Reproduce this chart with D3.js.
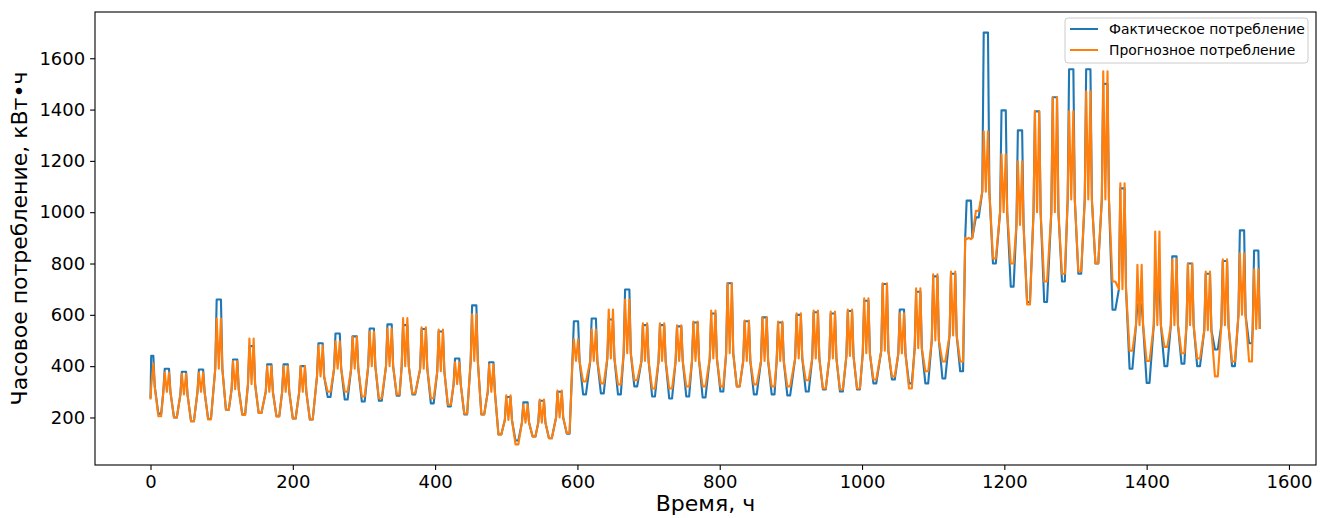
<!DOCTYPE html>
<html>
<head>
<meta charset="utf-8">
<script src="https://cdn.jsdelivr.net/npm/d3@7"></script>
<style>
  body { margin: 0; background: #fff; }
  svg text { font-family: "DejaVu Sans", sans-serif; fill: #000; }
</style>
</head>
<body>
<div id="container"></div>
<script>
// hour of each daily peak
const dayPeakHour = [1, 23, 47, 71, 96, 119, 142, 167, 190, 214, 239, 263, 287, 311, 336, 358, 384, 408, 431, 455,
  479, 503, 527, 550, 575, 598, 623, 647, 670, 695, 719, 743, 766, 791, 814, 838, 863, 885, 911, 935,
  959, 983, 1006, 1032, 1056, 1079, 1103, 1128, 1150, 1174, 1199, 1222, 1246, 1271, 1294, 1318, 1342, 1366, 1390, 1415,
  1439, 1461, 1486, 1510, 1534, 1554]

const actualPeak = [440, 390, 378, 387, 660, 426, 478, 407, 407, 400, 489, 527, 516, 547, 563, 560, 545, 535, 430, 637,
  415, 280, 259, 265, 300, 575, 586, 582, 699, 560, 560, 555, 570, 605, 723, 575, 590, 570, 600, 610,
  605, 615, 655, 720, 621, 690, 750, 760, 1045, 1700, 1397, 1319, 1393, 1448, 1557, 1557, 1500, 1093, 640, 720,
  828, 800, 760, 810, 929, 851]

const forecastPeak = [410, 375, 370, 375, 586, 420, 508, 400, 400, 400, 480, 497, 515, 535, 547, 587, 551, 543, 415, 602,
  407, 286, 250, 270, 305, 505, 543, 621, 660, 567, 567, 559, 574, 617, 723, 578, 590, 574, 606, 617,
  613, 621, 664, 723, 606, 703, 758, 769, 895, 1315, 1226, 1198, 1393, 1448, 1393, 1471, 1549, 1113, 795, 925,
  816, 800, 769, 816, 840, 777]

// level held just before and after each peak
const dayShoulder = [320, 300, 290, 300, 390, 310, 330, 300, 300, 300, 360, 390, 390, 400, 400, 400, 390, 380, 330, 420,
  300, 190, 180, 180, 200, 420, 420, 430, 450, 420, 420, 420, 420, 430, 450, 420, 420, 420, 430, 430,
  430, 440, 450, 460, 450, 470, 500, 520, 900, 1080, 1000, 950, 1000, 1000, 1050, 1050, 1050, 700, 560, 560,
  560, 560, 540, 560, 600, 545]

const actualTrough = [215, 200, 185, 195, 230, 212, 218, 205, 196, 192, 280, 270, 262, 265, 285, 290, 255, 243, 212, 212,
  134, 110, 126, 119, 137, 290, 294, 290, 321, 282, 274, 282, 278, 301, 321, 290, 290, 286, 301, 309,
  301, 309, 333, 348, 333, 333, 352, 380, 980, 800, 710, 650, 650, 730, 760, 800, 620, 390, 335, 400,
  410, 400, 465, 400, 489, 545]

const forecastTrough = [205, 200, 185, 192, 230, 210, 218, 204, 196, 192, 300, 300, 282, 275, 290, 294, 275, 250, 215, 212,
  134, 95, 126, 119, 140, 340, 333, 329, 345, 313, 313, 321, 321, 321, 321, 329, 321, 321, 345, 313,
  309, 313, 348, 360, 313, 380, 418, 418, 1005, 820, 800, 640, 730, 760, 770, 800, 730, 460, 420, 475,
  450, 430, 360, 418, 418, 545]

const startActual = 275
const startForecast = 270
const lastHour = 1560

// hours around each peak: rise, peak, middle, peak, drop, trough, trough
const profileOffsets = [-5, -3, 0, 3, 5, 10, 14]

const hourTicks = [0, 200, 400, 600, 800, 1000, 1200, 1400, 1600]
const valueTicks = [200, 400, 600, 800, 1000, 1200, 1400, 1600]

const w = 1327
const h = 518
const plotLeft = 95, plotRight = 1316, plotTop = 12, plotBottom = 465

function buildSeries(peaks, troughs, flatTop, start) {
    const pts = [[0, start]]
    dayPeakHour.forEach((c, i) => {
        const vals = [dayShoulder[i], peaks[i], flatTop ? peaks[i] : dayShoulder[i], peaks[i], dayShoulder[i], troughs[i], troughs[i]]
        profileOffsets.forEach((o, j) => {
            const hr = c + o
            if (hr > 0 && hr <= lastHour) pts.push([hr, vals[j]])
        })
    })
    return pts
}

const actual = buildSeries(actualPeak, actualTrough, true, startActual)
const forecast = buildSeries(forecastPeak, forecastTrough, false, startForecast)

const allVals = actual.concat(forecast).map(d => d[1])
const vMin = d3.min(allVals), vMax = d3.max(allVals)
const vPad = (vMax - vMin) * 0.05

const scaleX = d3.scaleLinear([-0.05 * lastHour, 1.05 * lastHour], [plotLeft, plotRight])
const scaleY = d3.scaleLinear([vMin - vPad, vMax + vPad], [plotBottom, plotTop])

const svg = d3.select('#container')
    .append('svg')
    .attr('width', w)
    .attr('height', h)

svg.append('rect').attr('width', w).attr('height', h).attr('fill', '#fff')

svg.append('clipPath')
    .attr('id', 'plot-clip')
    .append('rect')
    .attr('x', plotLeft).attr('y', plotTop)
    .attr('width', plotRight - plotLeft).attr('height', plotBottom - plotTop)

const line = d3.line()
    .x(d => scaleX(d[0]))
    .y(d => scaleY(d[1]))

const plot = svg.append('g').attr('clip-path', 'url(#plot-clip)')

plot.append('path')
    .datum(actual)
    .attr('d', line)
    .attr('fill', 'none')
    .attr('stroke', '#1f77b4')
    .attr('stroke-width', 2.1)
    .attr('stroke-linejoin', 'round')

plot.append('path')
    .datum(forecast)
    .attr('d', line)
    .attr('fill', 'none')
    .attr('stroke', '#ff7f0e')
    .attr('stroke-width', 2.1)
    .attr('stroke-linejoin', 'round')

const axisX = d3.axisBottom(scaleX)
    .tickValues(hourTicks)
    .tickFormat(d3.format('d'))
    .tickSize(4.9)
    .tickPadding(4.9)
    .tickSizeOuter(0)

const axisY = d3.axisLeft(scaleY)
    .tickValues(valueTicks)
    .tickFormat(d3.format('d'))
    .tickSize(4.9)
    .tickPadding(4.9)
    .tickSizeOuter(0)

const gx = svg.append('g')
    .attr('transform', `translate(0,${plotBottom})`)
    .call(axisX)

const gy = svg.append('g')
    .attr('transform', `translate(${plotLeft},0)`)
    .call(axisY)

for (const g of [gx, gy]) {
    g.select('.domain').remove()
    g.selectAll('.tick line').attr('stroke', '#000').attr('stroke-width', 1.1)
    g.selectAll('.tick text')
        .style('font-family', '"DejaVu Sans", sans-serif')
        .style('font-size', '18px')
        .attr('fill', '#000')
}

// axes frame
svg.append('rect')
    .attr('x', plotLeft).attr('y', plotTop)
    .attr('width', plotRight - plotLeft).attr('height', plotBottom - plotTop)
    .attr('fill', 'none')
    .attr('stroke', '#000')
    .attr('stroke-width', 1.1)

svg.append('text')
    .text('Время, ч')
    .attr('x', (plotLeft + plotRight) / 2)
    .attr('y', 511)
    .attr('text-anchor', 'middle')
    .style('font-size', '22px')

svg.append('text')
    .text('Часовое потребление, кВт•ч')
    .attr('transform', `translate(27,${(plotTop + plotBottom) / 2}) rotate(-90)`)
    .attr('text-anchor', 'middle')
    .style('font-size', '22px')

// legend
const legend = svg.append('g')
legend.append('rect')
    .attr('x', 1065).attr('y', 18)
    .attr('width', 243).attr('height', 45)
    .attr('rx', 3)
    .attr('fill', '#fff').attr('fill-opacity', 0.8)
    .attr('stroke', '#cccccc')

const legendItems = [['Фактическое потребление', '#1f77b4', 29], ['Прогнозное потребление', '#ff7f0e', 50]]
legendItems.forEach(([label, color, y]) => {
    legend.append('line')
        .attr('x1', 1070).attr('x2', 1098)
        .attr('y1', y).attr('y2', y)
        .attr('stroke', color).attr('stroke-width', 2)
    legend.append('text')
        .text(label)
        .attr('x', 1109).attr('y', y)
        .attr('dy', '0.35em')
        .style('font-size', '13.9px')
})
</script>
</body>
</html>
